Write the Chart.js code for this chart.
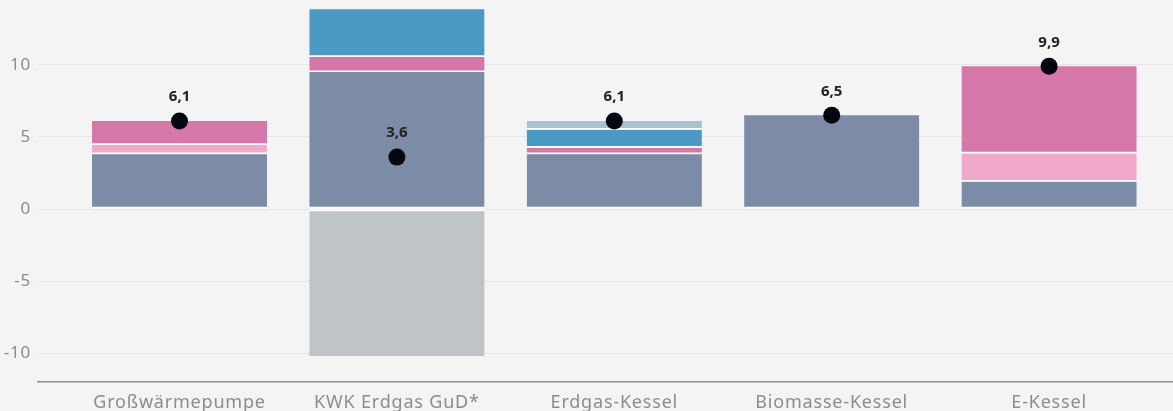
<!DOCTYPE html>
<html>
<head>
<meta charset="utf-8">
<script src="https://cdn.jsdelivr.net/npm/chart.js@4/dist/chart.umd.min.js"></script>
<style>
  html, body { margin: 0; padding: 0; background: #f4f4f4; }
  #wrap { width: 1173px; height: 411px; position: relative; }
</style>
</head>
<body>
<div id="wrap"><canvas id="chart"></canvas></div>
<script>
// categories and stacked segment values
var categories = ['Großwärmepumpe', 'KWK Erdgas GuD*', 'Erdgas-Kessel', 'Biomasse-Kessel', 'E-Kessel'];
var baseCost   = [3.8, 9.5, 3.8, 6.5, 1.9];
var lightPink  = [0.65, null, null, null, 1.95];
var darkPink   = [1.65, 1.05, 0.45, null, 6.05];
var blue       = [null, 3.3, 1.25, null, null];
var lightBlue  = [null, null, 0.6, null, null];
var revenue    = [null, -10.2, null, null, null];
var totals     = [6.1, 3.6, 6.1, 6.5, 9.9];
var yTicks     = [-10, -5, 0, 5, 10];

function toPoints(arr) {
  return arr.map(function (v, i) { return { x: i, y: v }; });
}

function barSet(data, color, negative) {
  return {
    type: 'bar',
    data: toPoints(data),
    backgroundColor: color,
    borderColor: '#ffffff',
    borderWidth: negative ? { top: 2, bottom: 0, left: 0, right: 0 } : { bottom: 2, top: 0, left: 0, right: 0 },
    borderSkipped: false,
    barThickness: 175,
    stack: 's',
    order: 2
  };
}

/**
 * Slightly wider axis text, value labels above the black dots
 */
var dotLabels = {
  id: 'dotLabels',
  beforeDraw: function (chart) {
    chart.ctx.letterSpacing = '0.8px';
  },
  afterDatasetsDraw: function (chart) {
    var ctx = chart.ctx;
    var meta = chart.getDatasetMeta(6);
    ctx.save();
    ctx.letterSpacing = '0px';
    ctx.font = 'bold 15px "Noto Sans", sans-serif';
    ctx.fillStyle = '#222222';
    ctx.textAlign = 'center';
    ctx.textBaseline = 'middle';
    meta.data.forEach(function (pt, i) {
      ctx.fillText(String(totals[i]).replace('.', ','), pt.x, pt.y - 24);
    });
    ctx.restore();
  }
};

var ctx = document.getElementById('chart').getContext('2d');
new Chart(ctx, {
  data: {
    datasets: [
      barSet(baseCost, '#7d8ca6'),
      barSet(lightPink, '#f0a9ca'),
      barSet(darkPink, '#d677aa'),
      barSet(blue, '#4a9ac3'),
      barSet(lightBlue, '#a4c3d1'),
      barSet(revenue, '#bfc4c8', true),
      {
        type: 'line',
        data: toPoints(totals),
        showLine: false,
        clip: false,
        pointRadius: 8.5,
        pointBackgroundColor: '#04070f',
        pointBorderWidth: 0,
        order: 0
      }
    ]
  },
  options: {
    responsive: true,
    maintainAspectRatio: false,
    animation: false,
    events: [],
    layout: { padding: 0, autoPadding: false },
    plugins: { legend: { display: false }, tooltip: { enabled: false } },
    scales: {
      x: {
        type: 'linear',
        stacked: true,
        offset: false,
        min: -0.651,
        max: 4.57,
        afterBuildTicks: function (axis) {
          axis.ticks = categories.map(function (c, i) { return { value: i }; });
        },
        afterFit: function (axis) {
          axis.height = 29;
          axis.paddingLeft = 0;
          axis.paddingRight = 0;
        },
        grid: { display: false, drawTicks: false },
        border: { display: true, color: '#8f8f8f', width: 1.5 },
        ticks: {
          padding: 10,
          autoSkip: false,
          maxRotation: 0,
          color: '#8c8c8c',
          font: { family: '"Noto Sans", sans-serif', size: 18 },
          callback: function (v) { return categories[v]; }
        }
      },
      y: {
        stacked: true,
        min: -12,
        max: 14.5,
        afterBuildTicks: function (axis) {
          axis.ticks = yTicks.map(function (v) { return { value: v }; });
        },
        afterFit: function (axis) {
          axis.width = 38;
          axis.paddingTop = 0;
          axis.paddingBottom = 0;
        },
        grid: { color: '#e6e6e6', lineWidth: 1, drawTicks: false },
        border: { display: false },
        ticks: {
          padding: 7,
          color: '#8c8c8c',
          font: { family: '"Noto Sans", sans-serif', size: 17 }
        }
      }
    }
  },
  plugins: [dotLabels]
});
</script>
</body>
</html>
